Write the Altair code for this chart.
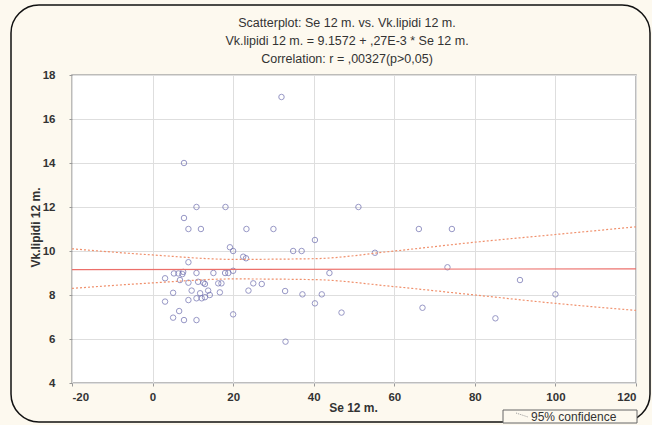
import altair as alt
import pandas as pd

# Scatter data (Se 12 m. vs Vk.lipidi 12 m.)
se_12 = [32.0, 7.8, 10.9, 18.1, 51.1, 7.8, 8.9, 12.0, 23.3, 30.0, 66.1, 74.3,
         40.3, 19.2, 20.0, 34.9, 37.0, 55.2, 22.5, 23.2, 8.9, 73.2, 5.3, 6.4,
         7.6, 7.4, 10.9, 15.1, 18.0, 18.8, 20.0, 43.9, 3.1, 6.8, 91.2, 8.9,
         11.3, 12.6, 13.0, 16.3, 17.1, 25.0, 27.1, 9.7, 13.8, 23.8, 32.9, 5.1,
         11.8, 16.7, 14.2, 37.2, 42.0, 100.0, 12.2, 10.9, 13.0, 8.9, 3.1, 40.3,
         67.0, 6.6, 46.9, 20.0, 5.1, 85.1, 7.8, 10.9, 33.0]
vk_lipidi = [17.0, 14.0, 12.0, 12.0, 12.0, 11.5, 11.0, 11.0, 11.0, 11.0, 11.0, 11.0,
             10.5, 10.17, 10.0, 10.0, 10.0, 9.92, 9.74, 9.67, 9.49, 9.26, 8.98, 8.98,
             9.05, 8.95, 9.0, 9.0, 9.0, 9.0, 9.1, 9.0, 8.76, 8.68, 8.68, 8.56,
             8.6, 8.56, 8.5, 8.53, 8.53, 8.53, 8.5, 8.2, 8.2, 8.2, 8.18, 8.1,
             8.08, 8.12, 8.0, 8.03, 8.03, 8.03, 7.85, 7.85, 7.9, 7.77, 7.7, 7.62,
             7.42, 7.27, 7.2, 7.12, 6.97, 6.94, 6.86, 6.86, 5.88]

# Fitted line and 95% confidence bounds
fit_x = [-20, 120]
fit_y = [9.152, 9.190]
band_x = [-20, 0, 20, 40, 60, 80, 100, 120]
band_upper = [10.1, 9.82, 9.62, 9.65, 10.0, 10.4, 10.75, 11.1]
band_lower = [8.3, 8.55, 8.73, 8.7, 8.38, 8.0, 7.62, 7.3]

x_ticks = [-20, 0, 20, 40, 60, 80, 100, 120]
y_ticks = [4, 6, 8, 10, 12, 14, 16, 18]

title_lines = ["Scatterplot: Se 12 m. vs. Vk.lipidi 12 m.",
               "Vk.lipidi 12 m. = 9.1572 + ,27E-3 * Se 12 m.",
               "Correlation: r = ,00327(p>0,05)"]
legend_label = "95% confidence"

FONT = "Liberation Sans"
W, H = 564, 308

pts = pd.DataFrame({"x": se_12, "y": vk_lipidi})
fit = pd.DataFrame({"x": fit_x, "y": fit_y})
band = pd.DataFrame({
    "x": band_x + band_x,
    "y": band_upper + band_lower,
    "bound": ["upper"] * len(band_x) + ["lower"] * len(band_x),
})

xscale = alt.Scale(domain=[-20, 120], nice=False, zero=False)
yscale = alt.Scale(domain=[4, 18], nice=False, zero=False)

xaxis = alt.Axis(values=x_ticks, title="Se 12 m.", grid=True, gridColor="#dedede",
                 domain=False, tickSize=3, tickColor="#999", labelPadding=5,
                 labelExpr="'' + datum.value",
                 labelFont=FONT, labelFontSize=11.5, labelFontWeight="bold", labelColor="#333",
                 titleFont=FONT, titleFontSize=12, titleFontWeight="bold", titleColor="#333",
                 titleX=281, titleY=24, titleBaseline="middle", titleAlign="center")
yaxis = alt.Axis(values=y_ticks, title="Vk.lipidi 12 m.", grid=True, gridColor="#dedede",
                 domain=False, tickSize=3, tickColor="#999", labelPadding=14,
                 labelExpr="'' + datum.value",
                 labelFont=FONT, labelFontSize=11.5, labelFontWeight="bold", labelColor="#333",
                 titleFont=FONT, titleFontSize=12, titleFontWeight="bold", titleColor="#333",
                 titleX=-37, titleY=152, titleAngle=-90, titleBaseline="middle",
                 titleAlign="center")

points = alt.Chart(pts).mark_point(shape="circle", filled=False, size=30,
                                   stroke="#6c6cae", strokeWidth=1).encode(
    x=alt.X("x:Q", scale=xscale, axis=xaxis),
    y=alt.Y("y:Q", scale=yscale, axis=yaxis),
)

fit_line = alt.Chart(fit).mark_line(color="#ec6f6a", strokeWidth=1.2).encode(
    x=alt.X("x:Q", scale=xscale), y=alt.Y("y:Q", scale=yscale))

band_lines = alt.Chart(band).mark_line(color="#f0906c", strokeWidth=1.2,
                                       strokeDash=[2, 2], interpolate="monotone").encode(
    x=alt.X("x:Q", scale=xscale), y=alt.Y("y:Q", scale=yscale), detail="bound:N")

one = pd.DataFrame({"a": [0]})

frame = alt.Chart(one).mark_rect(
    fillOpacity=0, stroke="#111", strokeWidth=1.5, cornerRadius=28, clip=False).encode(
    x=alt.value(-61), x2=alt.value(578), y=alt.value(-70), y2=alt.value(347))

legend_box = alt.Chart(one).mark_rect(
    fill="#fdf9ef", stroke="#666", strokeWidth=1, clip=False).encode(
    x=alt.value(431), x2=alt.value(565), y=alt.value(335), y2=alt.value(348))

legend_sample = alt.Chart(one).mark_rule(
    color="#999", strokeDash=[1, 1], strokeWidth=1, clip=False).encode(
    x=alt.value(444), x2=alt.value(456), y=alt.value(338), y2=alt.value(342))

legend_text = alt.Chart(pd.DataFrame({"t": [legend_label]})).mark_text(
    align="left", baseline="middle", font=FONT, fontSize=12, color="#333", clip=False).encode(
    text="t:N", x=alt.value(459), y=alt.value(342))

title_layers = []
for i, line in enumerate(title_lines):
    title_layers.append(
        alt.Chart(pd.DataFrame({"t": [line]})).mark_text(
            align="center", baseline="middle", font=FONT, fontSize=12.5, color="#333",
            clip=False).encode(text="t:N", x=alt.value(275), y=alt.value(-52 + 18 * i))
    )

chart = alt.layer(points, fit_line, band_lines, frame, legend_box, legend_sample,
                  legend_text, *title_layers).properties(
    width=W, height=H,
    autosize=alt.AutoSizeParams(type="none"),
    padding={"left": 72, "top": 75, "right": 16, "bottom": 42},
    background="#fdf9ef",
).configure_view(fill="white", stroke="#a8a8a8", strokeWidth=1.5)

chart.save("out.html", embed_options={"renderer": "svg", "actions": False})
